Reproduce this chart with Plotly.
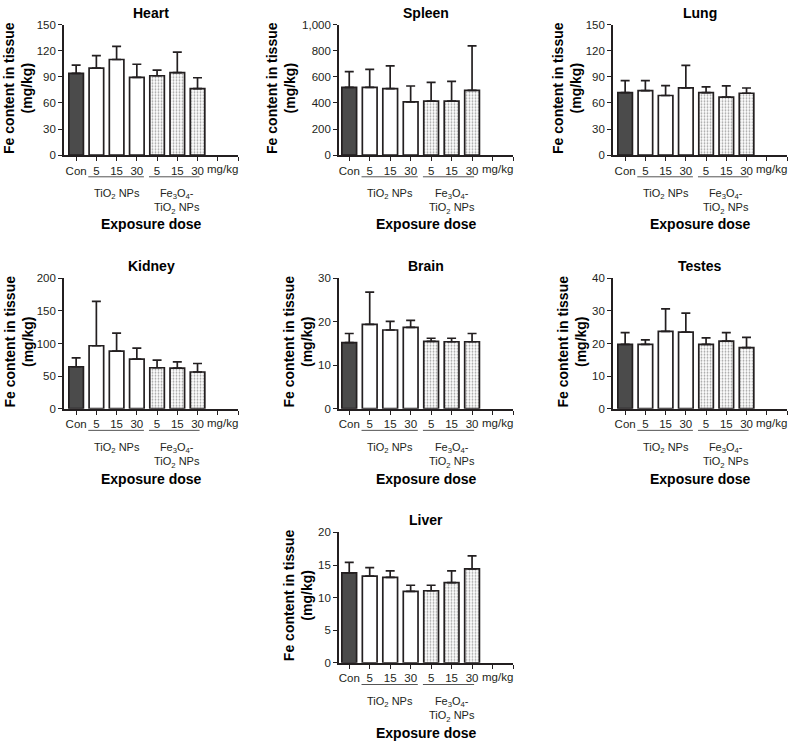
import plotly.graph_objects as go

# ---------------- data ----------------
categories = ["Con", "5", "15", "30", "5", "15", "30"]
group_kind = ["con", "tio2", "tio2", "tio2", "fe", "fe", "fe"]
organs = ["Heart", "Spleen", "Lung", "Kidney", "Brain", "Testes", "Liver"]

heart_mean = [94, 100, 110, 89.5, 91.3, 95, 76.5]
heart_err = [9.5, 14.5, 15, 15, 6.5, 23.5, 12.5]
spleen_mean = [520, 520, 510, 409, 414, 414, 497]
spleen_err = [120, 137, 174, 121, 144, 152, 341]
lung_mean = [72, 74.2, 68.6, 77.3, 72, 66.7, 71.2]
lung_err = [13.6, 11.4, 11.3, 26, 6.4, 12.9, 6]
kidney_mean = [64.3, 96.5, 88.4, 75.9, 62.8, 62.3, 56.3]
kidney_err = [13.6, 68, 27.6, 17, 11.6, 9.6, 13]
brain_mean = [15.2, 19.4, 18.1, 18.7, 15.5, 15.4, 15.4]
brain_err = [2.1, 7.4, 2.0, 1.6, 0.7, 0.8, 1.9]
testes_mean = [19.7, 19.7, 23.7, 23.5, 19.7, 20.7, 18.7]
testes_err = [3.6, 1.4, 6.9, 5.8, 2.0, 2.6, 3.2]
liver_mean = [13.8, 13.3, 13.1, 10.95, 11.05, 12.3, 14.4]
liver_err = [1.6, 1.3, 1.0, 0.95, 0.85, 1.8, 2.0]

means = [heart_mean, spleen_mean, lung_mean, kidney_mean, brain_mean, testes_mean, liver_mean]
errs = [heart_err, spleen_err, lung_err, kidney_err, brain_err, testes_err, liver_err]
y_max = [150, 1000, 150, 200, 30, 40, 20]
y_dtick = [30, 200, 30, 50, 10, 10, 5]
unit_label = "mg/kg"
group_labels = ["TiO<sub>2</sub> NPs", "Fe<sub>3</sub>O<sub>4</sub>-<br>TiO<sub>2</sub> NPs"]
y_title = "<b>Fe content in tissue<br>(mg/kg)</b>"
x_title = "<b>Exposure dose</b>"

# ---------------- style / layout ----------------
W, H = 790, 746
PW, PH = 174, 132.6
panel_px = [(64, 19), (339, 19), (613, 19),
            (64, 276.7), (339, 276.7), (613, 276.7),
            (339, 535)]
x_lo = [-0.6, -0.5, -0.6, -0.6, -0.5, -0.6, -0.5]
ytitle_off = [46, 58, 46, 45, 41, 41, 41.5]
xtitle_off = [69, 69, 69, 70, 70, 70, 70]
INK = "#231f20"
FONT = "Arial, Liberation Sans, sans-serif"
fill_map = {"con": "#4b4b4b", "tio2": "white", "fe": "white"}
pat_map = {"con": "", "tio2": "", "fe": "."}

fig = go.Figure()
annotations = []
shapes = []

for i, organ in enumerate(organs):
    n = "" if i == 0 else str(i + 1)
    xa, ya = "x" + n, "y" + n
    x0, y0 = panel_px[i]
    fig.add_trace(go.Bar(
        x=list(range(len(categories))), y=means[i],
        width=0.72,
        marker=dict(color=[fill_map[g] for g in group_kind],
                    line=dict(color=INK, width=1.7),
                    pattern=dict(shape=[pat_map[g] for g in group_kind],
                                 fgcolor="#9a9a9a", bgcolor="white",
                                 size=3, solidity=0.3)),
        error_y=dict(type="data", symmetric=False, array=errs[i],
                     arrayminus=[0] * len(categories),
                     color=INK, thickness=1.7, width=4.5),
        xaxis=xa, yaxis=ya, showlegend=False, hoverinfo="skip"))

    fig.layout["xaxis" + n] = dict(
        domain=[x0 / W, (x0 + PW) / W], anchor=ya,
        range=[x_lo[i], 8], tickmode="array",
        tickvals=list(range(9)), ticktext=categories + ["", ""],
        ticks="outside", ticklen=4, tickwidth=1.4, tickcolor=INK,
        showline=True, linecolor=INK, linewidth=1.6,
        showgrid=False, zeroline=False,
        tickfont=dict(size=11.5, color=INK, family=FONT), fixedrange=True)
    fig.layout["yaxis" + n] = dict(
        domain=[1 - (y0 + PH) / H, 1 - y0 / H], anchor=xa,
        range=[0, y_max[i]], dtick=y_dtick[i], tick0=0, tickformat=",",
        ticks="outside", ticklen=4, tickwidth=1.4, tickcolor=INK,
        showline=True, linecolor=INK, linewidth=1.6,
        showgrid=False, zeroline=False,
        tickfont=dict(size=11.5, color=INK, family=FONT), fixedrange=True)

    xd, yd = xa + " domain", ya + " domain"
    annotations.append(dict(xref=xd, yref=yd, x=0.5, y=1, yshift=12,
                            xanchor="center", yanchor="middle", showarrow=False,
                            text="<b>%s</b>" % organ,
                            font=dict(size=14, color="black", family=FONT)))
    annotations.append(dict(xref=xd, yref=yd, x=0, y=0.5, xshift=-ytitle_off[i], yshift=2,
                            xanchor="center", yanchor="middle", showarrow=False,
                            textangle=-90, text=y_title,
                            font=dict(size=14, color="black", family=FONT)))
    annotations.append(dict(xref=xa, yref=yd, x=7.22, y=0, yshift=-14,
                            xanchor="center", yanchor="middle", showarrow=False,
                            text=unit_label, font=dict(size=11.5, color=INK, family=FONT)))
    for gx, gl in zip([2, 5], group_labels):
        annotations.append(dict(xref=xa, yref=yd, x=gx, y=0, yshift=-30,
                                xanchor="center", yanchor="top", showarrow=False,
                                text=gl, font=dict(size=11, color=INK, family=FONT)))
    annotations.append(dict(xref=xd, yref=yd, x=0.5, y=0, yshift=-xtitle_off[i],
                            xanchor="center", yanchor="middle", showarrow=False,
                            text=x_title, font=dict(size=14, color="black", family=FONT)))
    for gx0, gx1 in [(0.6, 3.35), (3.6, 6.1)]:
        shapes.append(dict(type="line", xref=xa, yref=yd, x0=gx0, x1=gx1,
                           y0=-22 / PH, y1=-22 / PH,
                           line=dict(color="#555555", width=1)))

fig.update_layout(width=W, height=H, autosize=False,
                  margin=dict(l=0, r=0, t=0, b=0),
                  paper_bgcolor="white", plot_bgcolor="white",
                  annotations=annotations, shapes=shapes,
                  font=dict(family=FONT, color=INK), bargap=0.28)

fig.write_html("out.html", config={"displayModeBar": False},
               post_script="document.body.style.margin='0';document.body.style.overflow='hidden';")
